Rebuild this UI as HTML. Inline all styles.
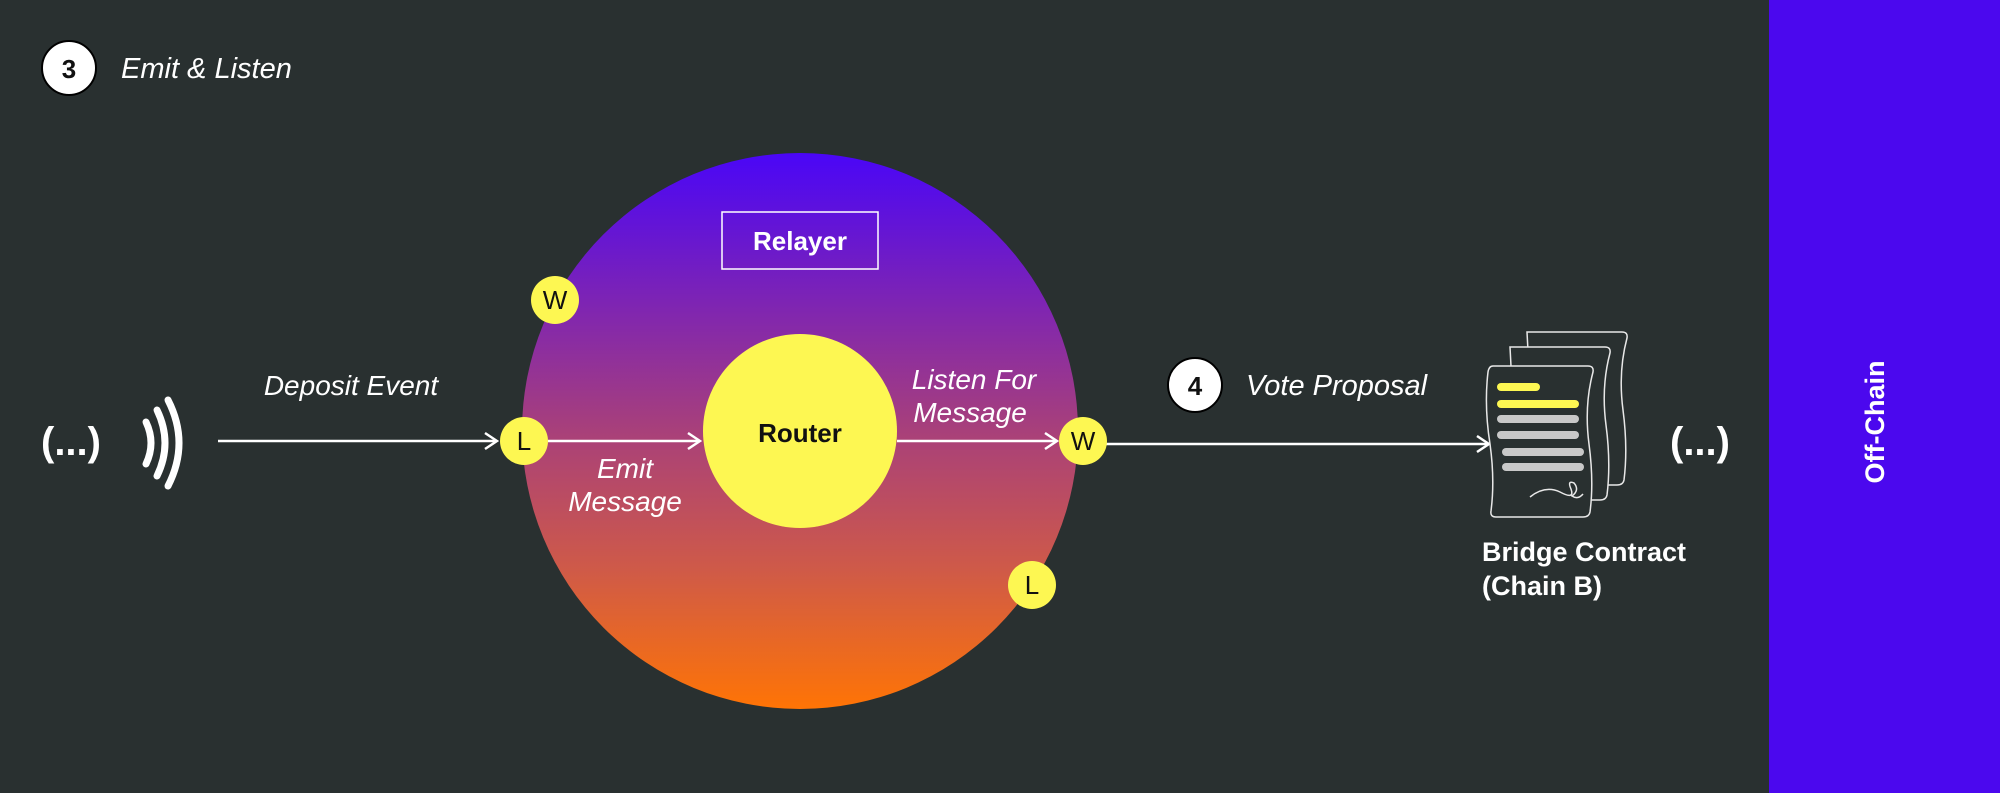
<!DOCTYPE html>
<html><head><meta charset="utf-8"><style>
html,body{margin:0;padding:0;background:#293030;}
svg{display:block}
text{font-family:"Liberation Sans","DejaVu Sans",sans-serif;}
</style></head><body>
<svg width="2000" height="793" viewBox="0 0 2000 793" xmlns="http://www.w3.org/2000/svg">
<defs>
<linearGradient id="g" x1="0" y1="0" x2="0" y2="1">
<stop offset="0" stop-color="#4a06f7"/>
<stop offset="0.25" stop-color="#7a22b8"/>
<stop offset="0.5" stop-color="#a8407a"/>
<stop offset="0.75" stop-color="#cf5a48"/>
<stop offset="1" stop-color="#ff7405"/>
</linearGradient>
<marker id="a" markerWidth="16" markerHeight="20" refX="14" refY="10" orient="auto" markerUnits="userSpaceOnUse">
<path d="M2,2 L14,10 L2,18" fill="none" stroke="#fff" stroke-width="2.5"/>
</marker>
</defs>
<rect x="0" y="0" width="2000" height="793" fill="#293030"/>
<rect x="1769" y="0" width="231" height="793" fill="#4b08ee"/>
<text transform="translate(1884,422) rotate(-90)" text-anchor="middle" font-size="27" font-weight="bold" fill="#fff">Off-Chain</text>

<circle cx="69" cy="68" r="27" fill="#fff" stroke="#000" stroke-width="2"/>
<text x="69" y="78" text-anchor="middle" font-size="26" font-weight="bold" fill="#111">3</text>
<text x="121" y="78" font-size="29" font-style="italic" fill="#fff">Emit &amp; Listen</text>

<circle cx="800" cy="431" r="278" fill="url(#g)"/>
<rect x="722" y="212" width="156" height="57" fill="none" stroke="#fff" stroke-width="1.5"/>
<text x="800" y="250" text-anchor="middle" font-size="26" font-weight="bold" fill="#fff">Relayer</text>
<circle cx="800" cy="431" r="97" fill="#fdf752"/>
<text x="800" y="442" text-anchor="middle" font-size="26" font-weight="bold" fill="#111">Router</text>

<text x="41" y="455" font-size="40" font-weight="bold" fill="#fff">(...)</text>
<text x="1670" y="455" font-size="40" font-weight="bold" fill="#fff">(...)</text>
<g fill="none" stroke="#fff" stroke-width="7" stroke-linecap="round">
<path d="M146,422 Q156,443 146,464"/>
<path d="M157,410 Q173,443 157,476"/>
<path d="M168,400 Q190,443 168,486"/>
</g>

<text x="351" y="395" text-anchor="middle" font-size="28" font-style="italic" fill="#fff">Deposit Event</text>
<line x1="218" y1="441" x2="497" y2="441" stroke="#fff" stroke-width="2.5" marker-end="url(#a)"/>
<line x1="548" y1="441" x2="700" y2="441" stroke="#fff" stroke-width="2.5" marker-end="url(#a)"/>
<line x1="897" y1="441" x2="1057" y2="441" stroke="#fff" stroke-width="2.5" marker-end="url(#a)"/>
<line x1="1106" y1="444" x2="1489" y2="444" stroke="#fff" stroke-width="2.5" marker-end="url(#a)"/>

<text x="625" y="478" text-anchor="middle" font-size="28" font-style="italic" fill="#fff">Emit</text>
<text x="625" y="511" text-anchor="middle" font-size="28" font-style="italic" fill="#fff">Message</text>
<text x="974" y="389" text-anchor="middle" font-size="28" font-style="italic" fill="#fff">Listen For</text>
<text x="970" y="422" text-anchor="middle" font-size="28" font-style="italic" fill="#fff">Message</text>

<g font-size="26" text-anchor="middle" fill="#111">
<circle cx="555" cy="300" r="24" fill="#fdf752"/><text x="555" y="309">W</text>
<circle cx="524" cy="441" r="24" fill="#fdf752"/><text x="524" y="450">L</text>
<circle cx="1083" cy="441" r="24" fill="#fdf752"/><text x="1083" y="450">W</text>
<circle cx="1032" cy="585" r="24" fill="#fdf752"/><text x="1032" y="594">L</text>
</g>

<circle cx="1195" cy="385" r="27" fill="#fff" stroke="#000" stroke-width="2"/>
<text x="1195" y="395" text-anchor="middle" font-size="26" font-weight="bold" fill="#111">4</text>
<text x="1246" y="395" font-size="29" font-style="italic" fill="#fff">Vote Proposal</text>

<g fill="#293030" stroke="#e8e8e8" stroke-width="1.5">
<path d="M1527,332 L1622,332 Q1628,332 1627,338 Q1618,372 1623,410 Q1628,448 1624,480 Q1623,485 1617,485 L1535,485 Z"/>
<path d="M1510,347 L1605,347 Q1611,347 1610,353 Q1601,387 1606,425 Q1611,463 1607,495 Q1606,500 1600,500 L1518,500 Z"/>
<path d="M1493,366 L1588,366 Q1594,366 1593,372 Q1584,406 1589,444 Q1594,482 1590,512 Q1589,517 1583,517 L1496,517 Q1490,517 1491,511 Q1495,480 1490,444 Q1484,406 1488,372 Q1489,366 1493,366 Z"/>
</g>
<g stroke-linecap="round" stroke-width="8">
<line x1="1501" y1="387" x2="1536" y2="387" stroke="#fdf752"/>
<line x1="1501" y1="404" x2="1575" y2="404" stroke="#fdf752"/>
<line x1="1501" y1="419" x2="1575" y2="419" stroke="#c8c8c8"/>
<line x1="1501" y1="435" x2="1575" y2="435" stroke="#c8c8c8"/>
<line x1="1506" y1="452" x2="1580" y2="452" stroke="#c8c8c8"/>
<line x1="1506" y1="467" x2="1580" y2="467" stroke="#c8c8c8"/>
</g>
<path d="M1530,497 Q1545,485 1560,492 Q1575,500 1571,489 Q1567,480 1574,483 Q1580,490 1572,496 Q1578,500 1583,494" fill="none" stroke="#e8e8e8" stroke-width="1.5"/>

<text x="1482" y="561" font-size="27" font-weight="bold" fill="#fff">Bridge Contract</text>
<text x="1482" y="595" font-size="27" font-weight="bold" fill="#fff">(Chain B)</text>
</svg>
</body></html>
